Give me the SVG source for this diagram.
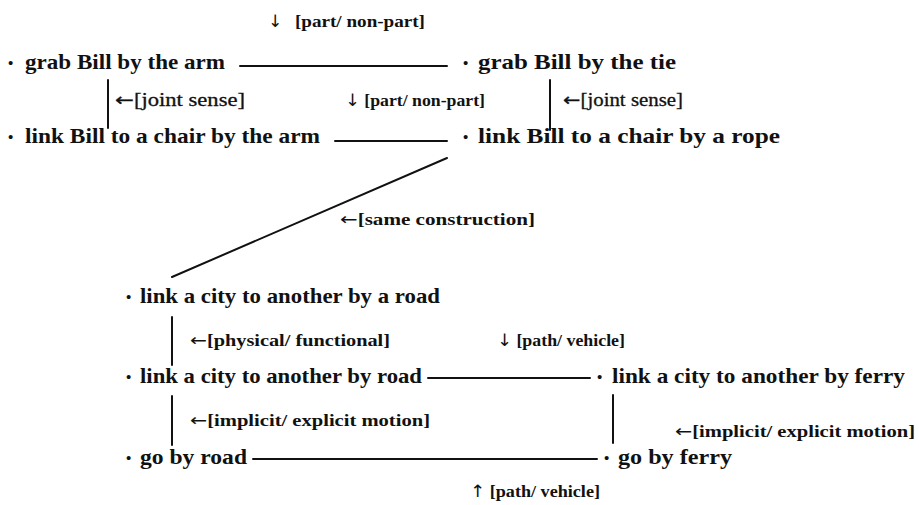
<svg xmlns="http://www.w3.org/2000/svg" width="919" height="505" viewBox="0 0 919 505">
<style>
.n{font-family:"Liberation Serif","Times New Roman",serif;font-size:22px;font-weight:bold;fill:#111}
.b{font-family:"Liberation Serif",serif;font-size:15px;font-weight:bold;fill:#111}
.l{font-family:"Liberation Serif","Times New Roman",serif;font-size:17px;font-weight:bold;fill:#111}
.lr{font-family:"Liberation Serif","Times New Roman",serif;font-size:18px;fill:#111;stroke:#111;stroke-width:0.3}
.a{font-family:"DejaVu Sans",sans-serif;font-weight:normal}
.c line{stroke:#111;stroke-width:2;stroke-linecap:round}
</style>
<rect width="919" height="505" fill="#fff"/>
<g class="c" id="connectors">
<line x1="240" y1="66" x2="447" y2="66" stroke-width="1.6"/>
<line x1="108" y1="80" x2="108" y2="128"/>
<line x1="550" y1="80" x2="550" y2="130"/>
<line x1="335" y1="141" x2="447" y2="141" stroke-width="1.6"/>
<line x1="447" y1="158" x2="172" y2="277" stroke-width="2.4"/>
<line x1="172" y1="317" x2="172" y2="365"/>
<line x1="428" y1="378" x2="590" y2="378" stroke-width="1.6"/>
<line x1="172" y1="396" x2="172" y2="445"/>
<line x1="613" y1="395" x2="613" y2="443"/>
<line x1="253" y1="459" x2="597" y2="459" stroke-width="1.6"/>
</g>
<g id="labels">
<text class="l" x="268" y="27"><tspan class="a">↓</tspan></text>
<text class="l" x="295" y="27" textLength="130" lengthAdjust="spacingAndGlyphs">[part/ non-part]</text>
<text class="lr" x="115" y="106" textLength="130" lengthAdjust="spacingAndGlyphs"><tspan class="a">←</tspan>[joint sense]</text>
<text class="l" x="345" y="106" textLength="140" lengthAdjust="spacingAndGlyphs"><tspan class="a">↓</tspan> [part/ non-part]</text>
<text class="lr" x="563" y="106" textLength="120" lengthAdjust="spacingAndGlyphs"><tspan class="a">←</tspan>[joint sense]</text>
<text class="l" x="340" y="225" textLength="195" lengthAdjust="spacingAndGlyphs" font-size="19"><tspan class="a">←</tspan>[same construction]</text>
<text class="l" x="190" y="346" textLength="200" lengthAdjust="spacingAndGlyphs"><tspan class="a">←</tspan>[physical/ functional]</text>
<text class="l" x="497" y="346" textLength="128" lengthAdjust="spacingAndGlyphs"><tspan class="a">↓</tspan> [path/ vehicle]</text>
<text class="l" x="190" y="426" textLength="240" lengthAdjust="spacingAndGlyphs"><tspan class="a">←</tspan>[implicit/ explicit motion]</text>
<text class="l" x="675" y="437" textLength="240" lengthAdjust="spacingAndGlyphs"><tspan class="a">←</tspan>[implicit/ explicit motion]</text>
<text class="l" x="470" y="497" textLength="130" lengthAdjust="spacingAndGlyphs"><tspan class="a">↑</tspan> [path/ vehicle]</text>
</g>
<g id="node-grab-arm"><text class="b" x="8" y="68">•</text><text class="n" x="25" y="69" textLength="200" lengthAdjust="spacingAndGlyphs">grab Bill by the arm</text></g>
<g id="node-grab-tie"><text class="b" x="463" y="68">•</text><text class="n" x="478" y="69" textLength="198" lengthAdjust="spacingAndGlyphs">grab Bill by the tie</text></g>
<g id="node-link-arm"><text class="b" x="8" y="142">•</text><text class="n" x="25" y="143" textLength="295" lengthAdjust="spacingAndGlyphs">link Bill to a chair by the arm</text></g>
<g id="node-link-rope"><text class="b" x="463" y="142">•</text><text class="n" x="478" y="143" textLength="302" lengthAdjust="spacingAndGlyphs">link Bill to a chair by a rope</text></g>
<g id="node-city-a-road"><text class="b" x="126" y="302">•</text><text class="n" x="140" y="303" textLength="300" lengthAdjust="spacingAndGlyphs">link a city to another by a road</text></g>
<g id="node-city-road"><text class="b" x="126" y="382">•</text><text class="n" x="140" y="383" textLength="282" lengthAdjust="spacingAndGlyphs">link a city to another by road</text></g>
<g id="node-city-ferry"><text class="b" x="597" y="382">•</text><text class="n" x="612" y="383" textLength="293" lengthAdjust="spacingAndGlyphs">link a city to another by ferry</text></g>
<g id="node-go-road"><text class="b" x="126" y="463">•</text><text class="n" x="140" y="464" textLength="107" lengthAdjust="spacingAndGlyphs">go by road</text></g>
<g id="node-go-ferry"><text class="b" x="604" y="463">•</text><text class="n" x="618" y="464" textLength="114" lengthAdjust="spacingAndGlyphs">go by ferry</text></g>
</svg>
